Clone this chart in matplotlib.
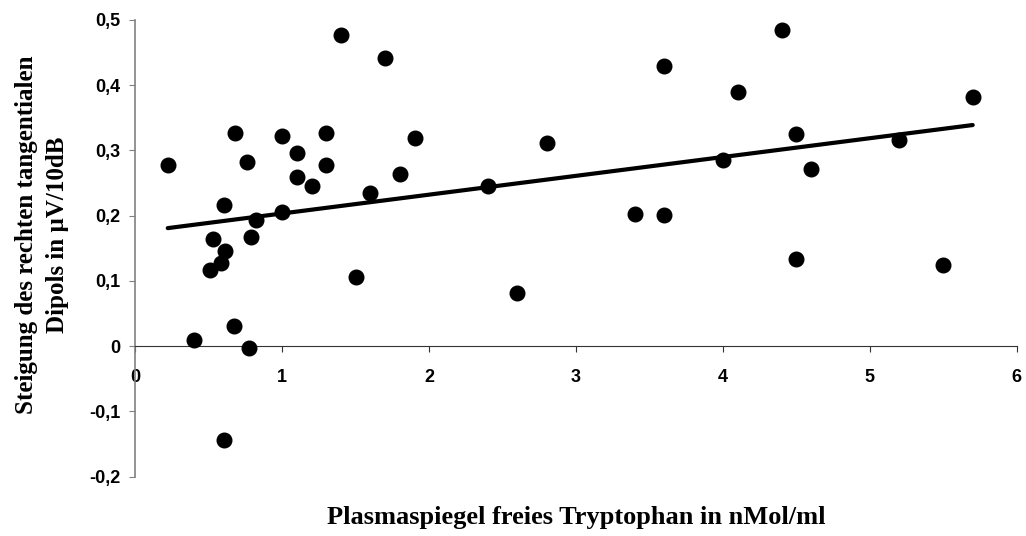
import matplotlib.pyplot as plt
from matplotlib.ticker import FuncFormatter

# data
tryptophan = [0.22, 0.40, 0.51, 0.53, 0.58, 0.60, 0.61, 0.60, 0.67, 0.68,
              0.76, 0.77, 0.79, 0.82, 1.00, 1.00, 1.10, 1.10, 1.20, 1.30,
              1.30, 1.40, 1.50, 1.60, 1.70, 1.80, 1.90, 2.40, 2.60, 2.80,
              3.40, 3.60, 3.60, 4.00, 4.10, 4.40, 4.50, 4.50, 4.60, 5.20,
              5.50, 5.70]
steigung = [0.278, 0.010, 0.117, 0.164, 0.127, 0.217, 0.146, -0.143, 0.031, 0.327,
            0.282, -0.002, 0.167, 0.194, 0.322, 0.205, 0.296, 0.259, 0.246, 0.327,
            0.278, 0.477, 0.106, 0.235, 0.441, 0.264, 0.319, 0.246, 0.081, 0.311,
            0.203, 0.201, 0.430, 0.286, 0.389, 0.485, 0.325, 0.133, 0.272, 0.316,
            0.125, 0.382]

# linear trend line end points
trend_x = [0.22, 5.70]
trend_y = [0.181, 0.339]

x_ticks = [0, 1, 2, 3, 4, 5, 6]
y_ticks = [-0.2, -0.1, 0, 0.1, 0.2, 0.3, 0.4, 0.5]

fig = plt.figure(figsize=(10.26, 5.36), dpi=100)
ax = fig.add_axes([0.132, 0.1106, 0.859, 0.8521])

ax.plot(tryptophan, steigung, 'o', color='black', markersize=10.5, zorder=3)
ax.plot(trend_x, trend_y, color='black', linewidth=3, solid_capstyle='round', zorder=2)

ax.set_xlim(0, 6)
ax.set_ylim(-0.2, 0.5)
ax.set_xticks(x_ticks)
ax.set_yticks(y_ticks)

ax.spines['top'].set_visible(False)
ax.spines['right'].set_visible(False)
ax.spines['bottom'].set_position(('data', 0))
ax.spines['bottom'].set_color('#333333')
ax.spines['left'].set_color('#808080')
ax.spines['left'].set_linewidth(1.2)

ax.yaxis.set_major_formatter(FuncFormatter(lambda v, p: ('%g' % round(v, 1)).replace('.', ',')))
ax.tick_params(axis='y', direction='out', length=4.3, color='#808080', pad=6.5)
ax.tick_params(axis='x', direction='out', length=4, color='#333333', pad=12.5)
for lbl in ax.get_xticklabels() + ax.get_yticklabels():
    lbl.set_fontfamily('Liberation Sans')
    lbl.set_fontweight('bold')
    lbl.set_fontsize(13)

fig.text(0.5614, 0.0354, 'Plasmaspiegel freies Tryptophan in nMol/ml',
         ha='center', va='center', family='Liberation Serif', weight='bold', fontsize=19)
fig.text(0.041, 0.562, 'Steigung des rechten tangentialen\nDipols in µV/10dB',
         ha='center', va='center', rotation=90, family='Liberation Serif',
         weight='bold', fontsize=18, linespacing=1.4)

fig.savefig('out.png', dpi=100)
